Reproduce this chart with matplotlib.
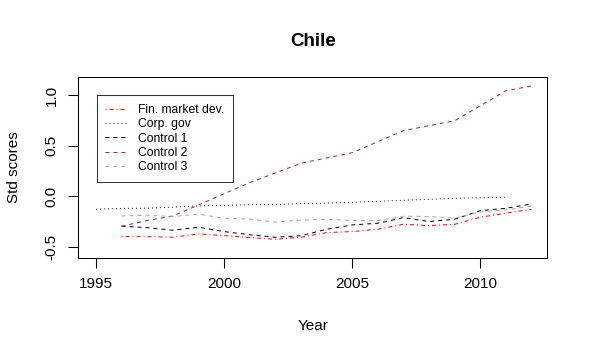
import matplotlib
matplotlib.use("Agg")
import matplotlib.pyplot as plt

plt.rcParams['font.family'] = ['Liberation Sans', 'DejaVu Sans']

# Chile: standardised scores by year
years_corp = [1995, 1996, 1997, 1998, 1999, 2000, 2001, 2002, 2003,
              2004, 2005, 2006, 2007, 2008, 2009, 2010, 2011]
years = [1996, 1997, 1998, 1999, 2000, 2001, 2002, 2003, 2004,
         2005, 2006, 2007, 2008, 2009, 2010, 2011, 2012]

fin_market = [-0.399, -0.399, -0.405, -0.372, -0.389, -0.408, -0.425, -0.405, -0.359,
              -0.349, -0.326, -0.277, -0.290, -0.277, -0.207, -0.168, -0.128]
corp_gov = [-0.128, -0.120, -0.118, -0.108, -0.095, -0.090, -0.084, -0.080, -0.073,
            -0.068, -0.060, -0.050, -0.040, -0.030, -0.020, -0.015, -0.010]
control1 = [-0.296, -0.310, -0.336, -0.306, -0.349, -0.380, -0.405, -0.390, -0.326,
            -0.283, -0.267, -0.211, -0.250, -0.227, -0.142, -0.119, -0.076]
control2 = [-0.296, -0.240, -0.195, -0.086, 0.025, 0.134, 0.230, 0.326, 0.378,
            0.430, 0.539, 0.648, 0.697, 0.746, 0.894, 1.042, 1.089]
control3 = [-0.195, -0.187, -0.200, -0.177, -0.217, -0.226, -0.255, -0.236, -0.227,
            -0.240, -0.240, -0.198, -0.200, -0.215, -0.155, -0.135, -0.097]

labels = ["Fin. market dev.", "Corp. gov", "Control 1", "Control 2", "Control 3"]
xticks = [1995, 2000, 2005, 2010]
yticks = [-0.5, 0.0, 0.5, 1.0]

W, H = 590, 356
fig = plt.figure(figsize=(W / 100, H / 100), dpi=100)
ax = fig.add_axes([78 / W, 1 - 258 / H, (547 - 78) / W, (258 - 77) / H])

lw = 0.72
ax.plot(years, fin_market, color='red', lw=lw, ls=(0, (1, 3, 4, 3)), label=labels[0])
ax.plot(years_corp, corp_gov, color='blue', lw=lw, ls=(0, (1, 3)), label=labels[1])
ax.plot(years, control1, color='black', lw=lw, ls=(0, (4, 4)), label=labels[2])
ax.plot(years, control2, color='brown', lw=lw, ls=(0, (4, 4)), label=labels[3])
ax.plot(years, control3, color='darkgray', lw=lw, ls=(0, (4, 4)), label=labels[4])

ax.set_xlim(1994.30, 2012.60)
ax.set_ylim(-0.61, 1.178)
ax.set_xticks(xticks)
ax.set_xticklabels([str(t) for t in xticks])
ax.set_yticks(yticks)
ax.set_yticklabels(["%.1f" % t for t in yticks], rotation=90, va='center')
ax.tick_params(length=7, width=0.75, labelsize=11, direction='out')
ax.tick_params(axis='x', pad=7)
ax.tick_params(axis='y', pad=7)
for s in ax.spines.values():
    s.set_linewidth(0.75)
    s.set_color('black')

leg = ax.legend(loc='upper left', bbox_to_anchor=(0.040, 0.899), borderaxespad=0,
                fontsize=8.7, frameon=True, fancybox=False, edgecolor='black',
                handlelength=1.8, handletextpad=0.95, labelspacing=0.2,
                borderpad=0.7)
leg.get_frame().set_linewidth(0.75)

fig.text(313 / W, 1 - 41 / H, "Chile", ha='center', va='center',
         fontsize=13.5, fontweight='bold')
fig.text(313 / W, 1 - 326.5 / H, "Year", ha='center', va='center', fontsize=11)
fig.text(14 / W, 1 - 167.5 / H, "Std scores", ha='center', va='center',
         fontsize=11, rotation=90)

fig.savefig("out.png", dpi=100)
